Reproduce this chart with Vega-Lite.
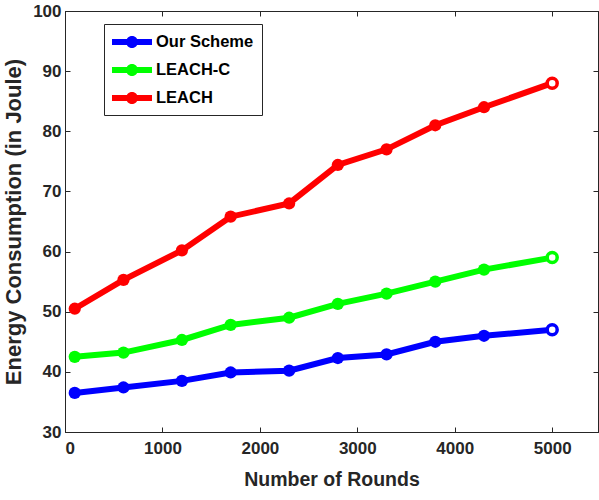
{
  "$schema": "https://vega.github.io/schema/vega-lite/v6.json",
  "width": 533,
  "height": 421,
  "autosize": "none",
  "padding": {"left": 65, "top": 11, "right": 1, "bottom": 68},
  "background": "white",
  "data": {"values": [
    {"rounds": 100, "energy": 36.5, "scheme": "Our Scheme"},
    {"rounds": 600, "energy": 37.4, "scheme": "Our Scheme"},
    {"rounds": 1200, "energy": 38.5, "scheme": "Our Scheme"},
    {"rounds": 1700, "energy": 39.9, "scheme": "Our Scheme"},
    {"rounds": 2300, "energy": 40.2, "scheme": "Our Scheme"},
    {"rounds": 2800, "energy": 42.3, "scheme": "Our Scheme"},
    {"rounds": 3300, "energy": 42.9, "scheme": "Our Scheme"},
    {"rounds": 3800, "energy": 45.0, "scheme": "Our Scheme"},
    {"rounds": 4300, "energy": 46.0, "scheme": "Our Scheme"},
    {"rounds": 5000, "energy": 47.0, "scheme": "Our Scheme"},
    {"rounds": 100, "energy": 42.5, "scheme": "LEACH-C"},
    {"rounds": 600, "energy": 43.2, "scheme": "LEACH-C"},
    {"rounds": 1200, "energy": 45.3, "scheme": "LEACH-C"},
    {"rounds": 1700, "energy": 47.8, "scheme": "LEACH-C"},
    {"rounds": 2300, "energy": 49.0, "scheme": "LEACH-C"},
    {"rounds": 2800, "energy": 51.3, "scheme": "LEACH-C"},
    {"rounds": 3300, "energy": 53.0, "scheme": "LEACH-C"},
    {"rounds": 3800, "energy": 55.0, "scheme": "LEACH-C"},
    {"rounds": 4300, "energy": 57.0, "scheme": "LEACH-C"},
    {"rounds": 5000, "energy": 59.0, "scheme": "LEACH-C"},
    {"rounds": 100, "energy": 50.5, "scheme": "LEACH"},
    {"rounds": 600, "energy": 55.3, "scheme": "LEACH"},
    {"rounds": 1200, "energy": 60.2, "scheme": "LEACH"},
    {"rounds": 1700, "energy": 65.8, "scheme": "LEACH"},
    {"rounds": 2300, "energy": 68.0, "scheme": "LEACH"},
    {"rounds": 2800, "energy": 74.4, "scheme": "LEACH"},
    {"rounds": 3300, "energy": 77.0, "scheme": "LEACH"},
    {"rounds": 3800, "energy": 81.0, "scheme": "LEACH"},
    {"rounds": 4300, "energy": 84.0, "scheme": "LEACH"},
    {"rounds": 5000, "energy": 88.0, "scheme": "LEACH"}
  ]},
  "config": {
    "font": "Liberation Sans",
    "view": {"stroke": "#262626", "strokeWidth": 1},
    "axis": {
      "grid": false,
      "domainColor": "#262626",
      "tickColor": "#262626",
      "tickSize": -5,
      "labelColor": "#262626",
      "labelFont": "Liberation Sans",
      "labelFontSize": 17,
      "labelFontWeight": "bold",
      "titleColor": "#262626",
      "titleFont": "Liberation Sans",
      "titleFontSize": 18,
      "titleFontWeight": "bold"
    }
  },
  "resolve": {"axis": {"x": "independent", "y": "independent"}},
  "layer": [
    {
      "mark": {"type": "line", "strokeWidth": 6},
      "encoding": {
        "x": {"field": "rounds", "type": "quantitative", "scale": {"domain": [0, 5470], "nice": false, "zero": false},
              "axis": {"title": "Number of Rounds", "values": [0, 1000, 2000, 3000, 4000, 5000], "format": "d", "labelPadding": 13, "titlePadding": 14,
                       "titleFontSize": 19.5}},
        "y": {"field": "energy", "type": "quantitative", "scale": {"domain": [30, 100], "nice": false, "zero": false},
              "axis": {"title": "Energy Consumption (in Joule)", "values": [30, 40, 50, 60, 70, 80, 90, 100], "labelPadding": 9, "titlePadding": 7,
                       "titleFontSize": 22}},
        "color": {"field": "scheme", "type": "nominal",
                  "scale": {"domain": ["Our Scheme", "LEACH-C", "LEACH"], "range": ["#0000ff", "#00ff00", "#ff0000"]},
                  "legend": {
                    "title": null,
                    "orient": "none",
                    "legendX": 39,
                    "legendY": 13,
                    "direction": "vertical",
                    "fillColor": "white",
                    "strokeColor": "#262626",
                    "padding": 8,
                    "rowPadding": 9,
                    "labelFont": "Liberation Sans",
                    "labelFontSize": 16.5,
                    "labelFontWeight": "bold",
                    "labelColor": "#000000",
                    "symbolType": "M-2,-0.3L2,-0.3L2,0.3L-2,0.3Z M-0.6,0A0.6,0.6 0 1,1 0.6,0A0.6,0.6 0 1,1 -0.6,0Z",
                    "symbolSize": 400,
                    "symbolStrokeWidth": 0,
                    "symbolOpacity": 1,
                    "symbolOffset": 10,
                    "labelOffset": 14
                  }}
      }
    },
    {
      "transform": [{"filter": "datum.rounds < 5000"}],
      "mark": {"type": "point", "filled": true, "shape": "circle", "size": 150, "opacity": 1},
      "encoding": {
        "x": {"field": "rounds", "type": "quantitative", "axis": null},
        "y": {"field": "energy", "type": "quantitative", "axis": null},
        "color": {"field": "scheme", "type": "nominal"}
      }
    },
    {
      "transform": [{"filter": "datum.rounds == 5000"}],
      "mark": {"type": "point", "filled": false, "fill": "white", "shape": "circle", "size": 100, "strokeWidth": 3.5, "opacity": 1},
      "encoding": {
        "x": {"field": "rounds", "type": "quantitative", "axis": null},
        "y": {"field": "energy", "type": "quantitative", "axis": null},
        "color": {"field": "scheme", "type": "nominal"}
      }
    },
    {
      "mark": {"type": "point", "opacity": 0},
      "encoding": {
        "x": {"field": "rounds", "type": "quantitative",
              "axis": {"orient": "top", "labels": false, "title": null, "values": [0, 1000, 2000, 3000, 4000, 5000]}},
        "y": {"field": "energy", "type": "quantitative",
              "axis": {"orient": "right", "labels": false, "title": null, "values": [30, 40, 50, 60, 70, 80, 90, 100]}}
      }
    }
  ]
}
